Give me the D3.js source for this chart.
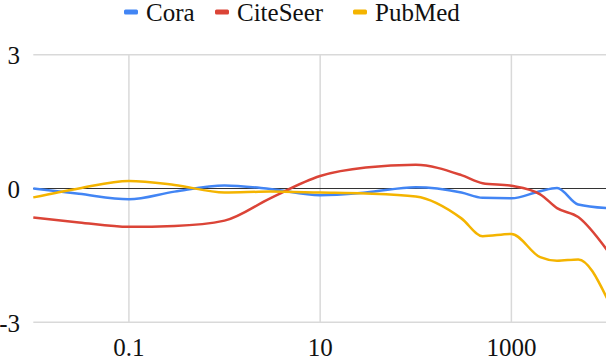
<!DOCTYPE html>
<html>
<head>
<meta charset="utf-8">
<script src="https://cdnjs.cloudflare.com/ajax/libs/d3/7.8.5/d3.min.js"></script>
<style>
  body { margin: 0; background: #fff; }
</style>
</head>
<body>
<svg width="606" height="360"></svg>
<script>
// values
const xValues = [0.01, 0.03, 0.1, 0.3, 1, 3, 10, 30, 100, 300, 500, 1000, 2000, 3000, 5000, 10000];
const cora     = [0.0, -0.12, -0.24, -0.07, 0.07, -0.01, -0.15, -0.09, 0.03, -0.09, -0.21, -0.22, -0.06, 0.01, -0.36, -0.44];
const citeseer = [-0.65, -0.76, -0.86, -0.84, -0.72, -0.22, 0.28, 0.47, 0.53, 0.30, 0.12, 0.06, -0.13, -0.44, -0.64, -1.38];
const pubmed   = [-0.2, 0.0, 0.17, 0.08, -0.09, -0.07, -0.09, -0.11, -0.18, -0.67, -1.07, -1.02, -1.54, -1.62, -1.59, -2.46];

const seriesNames = ["Cora", "CiteSeer", "PubMed"];
const seriesValues = [cora, citeseer, pubmed];
const colors = ["#4285F4", "#DB4437", "#F4B400"];

const xTicks = [0.1, 10, 1000];
const yTicks = [-3, 0, 3];

const fontFamily = "Liberation Serif, Times New Roman, Times, DejaVu Serif, Noto Serif, FreeSerif, Tinos, Nimbus Roman, serif";

const svg = d3.select("svg");

// plot area
let margin = { left: 33.3, right: 607, top: 54.7, bottom: 322.3 };

const x = d3.scaleLog().domain([0.01, 10000]).range([margin.left, margin.right]);
const y = d3.scaleLinear().domain([-3, 3]).range([margin.bottom, margin.top]);

// vertical grid
svg.append("g").selectAll("line")
  .data(xTicks)
  .join("line")
  .attr("x1", d => x(d)).attr("x2", d => x(d))
  .attr("y1", margin.top).attr("y2", margin.bottom)
  .attr("stroke", "#d9d9d9").attr("stroke-width", 1.5);

// horizontal grid (zero line darker)
svg.append("g").selectAll("line")
  .data(yTicks)
  .join("line")
  .attr("x1", margin.left).attr("x2", margin.right)
  .attr("y1", d => y(d)).attr("y2", d => y(d))
  .attr("stroke", d => d === 0 ? "#333" : "#d9d9d9")
  .attr("stroke-width", d => d === 0 ? 1 : 1.5);

// y labels
svg.append("g").selectAll("text")
  .data(yTicks)
  .join("text")
  .attr("x", 20)
  .attr("y", d => y(d) + 1)
  .attr("dy", "0.35em")
  .attr("text-anchor", "end")
  .attr("font-family", fontFamily)
  .attr("font-size", 25)
  .attr("fill", "#111")
  .text(d => d);

// x labels
svg.append("g").selectAll("text")
  .data(xTicks)
  .join("text")
  .attr("x", d => x(d))
  .attr("y", 356)
  .attr("text-anchor", "middle")
  .attr("font-family", fontFamily)
  .attr("font-size", 25)
  .attr("fill", "#111")
  .text(d => d);

// lines
const line = d3.line()
  .x(d => x(d[0]))
  .y(d => y(d[1]))
  .curve(d3.curveMonotoneX);

seriesValues.forEach(function (vals, i) {
  svg.append("path")
    .datum(xValues.map((xv, j) => [xv, vals[j]]))
    .attr("fill", "none")
    .attr("stroke", colors[i])
    .attr("stroke-width", 2.5)
    .attr("stroke-linejoin", "round")
    .attr("d", line);
});

// legend
const legendX = [124, 215, 353];
const legend = svg.append("g").selectAll("g")
  .data(seriesNames)
  .join("g")
  .attr("transform", (d, i) => `translate(${legendX[i]}, 12)`);

legend.append("rect")
  .attr("x", 0).attr("y", -2.5)
  .attr("width", 14).attr("height", 5)
  .attr("rx", 1.5)
  .attr("fill", (d, i) => colors[i]);

legend.append("text")
  .attr("x", 22)
  .attr("y", 9)
  .attr("font-family", fontFamily)
  .attr("font-size", 25)
  .attr("fill", "#111")
  .text(d => d);
</script>
</body>
</html>
